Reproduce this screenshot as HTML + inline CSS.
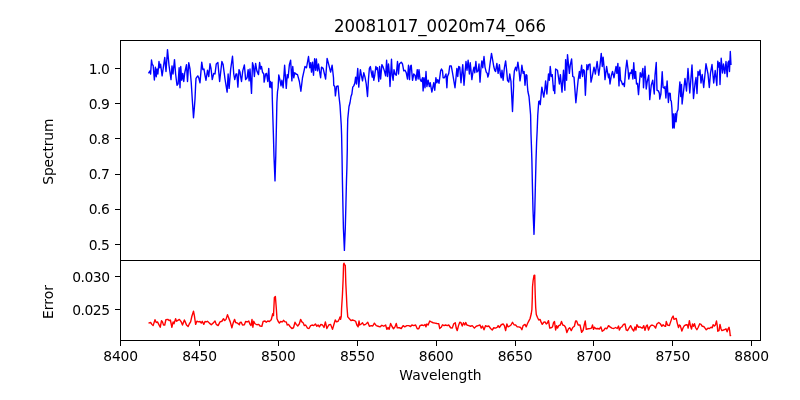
<!DOCTYPE html>
<html lang="en">
<head>
<meta charset="utf-8">
<title>20081017_0020m74_066</title>
<style>
html,body{margin:0;padding:0;background:#fff;}
body{width:800px;height:400px;overflow:hidden;}
svg{display:block;will-change:transform;}
text{font-family:"DejaVu Sans","Liberation Sans",sans-serif;fill:#000;}
.tk{font-size:13.89px;}
.ttl{font-size:16.67px;}
.ax{stroke:#000;stroke-width:1.11;fill:none;shape-rendering:crispEdges;}
.tick{stroke:#000;stroke-width:1.11;shape-rendering:crispEdges;}
.ln{fill:none;stroke-width:1.39;stroke-linejoin:round;stroke-linecap:butt;}
</style>
</head>
<body>
<svg width="800" height="400" viewBox="0 0 800 400">
<rect x="0" y="0" width="800" height="400" fill="#ffffff"/>
<defs>
<clipPath id="c1"><rect x="120.5" y="40.5" width="640.0" height="220.0"/></clipPath>
<clipPath id="c2"><rect x="120.5" y="260.5" width="640.0" height="80.0"/></clipPath>
</defs>
<polyline class="ln" clip-path="url(#c1)" stroke="#0000ff" points="148.50,73.38 150.00,70.88 150.62,74.00 151.50,60.00 152.25,64.62 153.12,65.25 154.38,80.00 155.38,67.12 156.25,76.75 157.00,69.00 157.88,74.00 159.00,61.50 159.75,67.75 160.62,64.25 162.12,75.88 163.12,69.00 164.75,57.50 166.00,71.50 167.50,49.62 169.00,65.25 171.00,79.62 172.00,65.88 173.00,74.00 174.50,59.62 175.62,74.00 177.00,85.25 178.12,83.75 179.12,67.75 180.00,87.75 180.75,66.50 181.75,80.25 182.75,73.38 183.75,81.50 184.75,72.75 186.50,64.62 187.50,81.50 188.75,62.75 190.00,69.00 191.25,82.75 192.25,99.00 192.75,106.50 193.50,117.75 194.25,109.00 195.00,99.00 195.62,85.25 196.00,78.38 197.75,75.88 198.75,77.75 200.00,82.75 201.75,62.12 202.88,69.62 204.00,69.00 204.75,74.00 206.00,80.25 207.50,70.25 208.75,76.50 210.00,63.75 211.00,68.38 212.25,79.62 213.75,73.38 215.00,74.00 216.25,64.00 217.88,62.50 219.62,81.50 221.88,61.50 223.12,64.62 225.00,79.00 227.12,92.12 228.12,74.00 229.12,88.38 230.62,69.62 232.50,56.25 233.75,74.00 234.75,79.62 236.00,74.00 236.88,74.00 237.88,87.12 239.00,69.62 240.00,72.12 240.62,76.50 241.50,81.50 242.75,70.88 244.38,65.00 245.62,79.62 247.12,77.75 248.12,69.62 249.12,80.88 250.00,69.00 251.50,93.38 252.50,62.75 253.50,66.50 254.38,76.50 255.62,63.38 256.88,70.88 258.50,74.62 259.62,62.50 260.62,69.00 261.50,66.50 262.50,72.12 263.75,74.00 264.12,82.12 265.62,74.00 266.50,73.38 267.75,81.50 268.75,68.38 269.75,87.12 270.38,81.50 271.25,87.75 272.00,82.12 272.25,96.50 272.75,114.00 273.38,134.00 274.00,156.50 275.00,180.88 275.75,156.50 276.25,134.00 276.88,102.75 277.50,91.50 278.12,87.75 278.75,75.00 280.00,80.25 281.00,85.88 281.88,80.25 283.12,87.75 284.62,65.25 286.25,88.38 287.25,74.62 288.12,77.75 289.38,64.62 290.62,60.25 291.88,80.88 292.75,66.50 293.75,77.75 294.75,72.75 296.00,74.00 297.50,74.62 299.38,81.50 300.88,91.25 302.50,77.75 303.75,72.12 305.00,66.50 306.50,67.75 308.50,56.50 309.75,67.75 310.62,62.75 311.50,72.12 312.50,62.12 313.50,75.25 314.62,58.75 315.62,70.25 316.38,59.00 317.50,70.88 318.50,64.00 319.75,72.75 320.62,77.75 321.50,67.12 323.12,68.38 325.62,79.00 327.12,58.38 328.75,64.62 330.62,72.12 332.12,65.25 333.50,77.75 333.75,85.25 334.75,86.50 335.40,95.90 336.60,86.50 338.10,85.90 339.00,96.50 340.00,105.30 341.25,125.30 341.60,135.00 342.00,155.00 342.40,180.00 342.90,205.00 343.40,228.00 344.40,250.40 345.30,228.00 345.90,205.00 346.50,180.00 346.90,167.50 347.30,148.75 347.40,134.00 347.75,119.00 349.00,106.50 350.00,102.75 351.00,96.50 351.88,94.00 352.75,87.12 353.75,85.88 354.75,83.38 355.62,77.12 356.50,84.00 357.75,68.38 358.75,87.12 359.75,76.50 360.38,69.62 361.50,75.88 362.50,80.88 363.75,72.75 365.00,77.12 366.25,84.00 367.50,96.50 368.50,79.00 369.38,68.38 370.38,66.50 371.25,72.12 372.25,77.12 372.88,70.88 373.75,80.25 374.75,75.25 375.88,66.50 376.88,69.62 377.50,67.75 378.75,81.50 379.62,66.50 380.62,79.00 381.88,64.62 383.12,67.12 384.38,70.88 385.62,75.88 386.62,60.25 387.50,76.50 388.50,64.00 389.38,73.38 390.00,86.50 391.50,59.25 392.25,75.25 393.12,80.25 394.00,69.62 395.00,74.00 396.25,75.25 397.50,61.50 398.50,74.00 399.38,64.00 401.25,62.12 402.50,64.00 403.75,70.88 405.00,70.25 406.25,72.75 407.50,79.00 408.50,65.25 409.50,79.62 410.38,66.50 411.25,65.25 412.50,80.25 413.75,74.00 415.00,75.25 416.00,80.25 417.25,69.62 418.12,79.00 419.00,69.62 420.00,79.00 421.25,81.50 422.50,77.75 423.12,90.88 424.00,77.75 425.00,87.75 426.00,71.50 426.88,86.50 428.12,80.25 429.38,86.50 430.25,82.75 431.88,92.12 433.12,85.88 433.75,82.75 434.75,90.25 435.88,77.75 436.88,82.75 437.75,79.62 439.00,83.38 440.62,70.88 441.50,69.00 442.50,70.88 443.12,77.75 444.38,77.75 446.00,74.00 446.88,87.75 447.50,76.50 448.75,73.38 449.75,65.88 451.25,65.88 452.50,72.75 453.75,80.25 455.00,87.75 455.88,79.00 456.88,68.38 457.75,76.50 458.75,66.50 459.75,67.12 461.00,82.75 461.88,72.75 462.75,64.62 464.00,85.25 465.00,72.75 466.00,61.50 467.00,70.25 468.12,60.25 469.38,74.00 470.25,62.75 471.88,79.62 473.12,70.88 474.00,67.12 474.75,72.75 475.88,61.50 476.88,72.12 478.12,70.88 479.00,64.00 480.00,82.12 481.00,67.75 481.88,60.88 482.75,67.75 484.00,56.50 485.00,67.12 486.25,72.12 487.25,73.38 487.88,77.12 488.75,74.00 490.00,64.00 491.50,53.38 492.50,59.00 493.75,66.50 494.75,70.25 495.62,71.50 496.88,63.38 498.12,73.38 499.38,64.62 500.38,74.62 501.25,77.75 502.00,70.25 503.12,80.25 504.38,67.75 505.62,60.88 506.50,69.00 507.50,80.25 508.75,82.12 509.75,74.00 511.00,81.50 511.20,86.00 512.50,111.50 513.60,86.00 513.50,81.50 514.38,70.88 515.62,67.12 516.62,70.88 517.88,62.12 519.00,70.25 520.00,80.88 521.00,74.00 521.88,65.25 523.12,73.38 524.12,71.50 525.00,85.25 526.00,74.62 526.88,75.25 527.25,84.00 527.90,91.50 529.00,96.50 530.00,107.75 530.60,115.00 531.00,134.00 531.40,145.00 531.90,161.00 532.40,185.00 533.00,210.00 534.00,234.40 534.80,210.00 535.40,185.00 536.00,161.00 536.60,142.50 537.20,130.00 537.75,115.25 538.75,101.50 539.40,100.90 540.25,104.60 541.25,93.40 541.88,87.12 543.12,94.00 543.75,97.12 544.75,90.25 545.62,80.88 546.88,94.00 548.50,74.00 549.38,80.25 550.25,66.50 551.25,76.50 552.25,74.62 553.50,90.50 554.12,85.88 554.75,93.50 555.62,69.00 557.50,70.25 559.38,84.00 560.38,74.62 562.00,92.12 563.50,70.25 564.88,90.25 565.62,59.62 566.62,80.25 567.50,54.62 569.38,73.38 570.25,65.25 571.62,59.00 572.75,76.50 574.00,77.12 575.88,102.75 578.12,80.25 579.38,71.50 580.00,78.38 581.62,65.25 582.50,76.50 583.50,69.62 584.38,70.88 585.38,95.25 586.88,64.62 587.88,69.62 588.75,64.62 590.00,64.00 591.00,82.12 592.25,76.50 594.00,67.12 595.38,74.00 597.12,61.50 598.75,75.25 599.75,67.75 601.25,53.38 602.25,66.50 603.12,57.12 604.38,70.25 605.00,79.62 606.62,66.50 607.50,72.12 608.50,77.75 609.12,74.00 610.00,84.00 611.25,75.88 612.50,71.50 614.00,77.75 616.00,66.50 616.88,73.38 617.88,63.38 619.00,85.88 619.75,67.12 620.62,80.25 621.50,81.50 622.50,84.62 623.50,83.38 624.38,86.50 625.62,70.88 626.88,60.25 628.12,70.25 628.75,79.00 630.00,72.75 631.00,73.38 631.88,69.62 632.88,79.00 633.75,62.75 634.75,78.38 635.62,71.50 636.50,84.00 637.50,83.38 638.50,94.62 640.25,72.75 641.50,77.12 642.88,68.38 643.50,87.75 645.00,66.25 646.25,89.00 647.25,81.50 648.75,75.25 649.75,99.62 651.25,85.25 652.75,80.25 654.25,94.00 655.00,75.25 656.25,62.50 657.00,90.25 658.38,90.88 659.38,93.38 659.75,99.10 660.90,94.00 662.20,71.75 663.10,87.50 664.25,88.25 665.00,86.40 665.90,98.00 667.10,81.00 668.40,102.50 669.10,93.10 670.25,93.50 670.70,100.50 671.30,101.00 671.90,108.00 672.40,118.00 672.70,128.00 673.50,114.00 674.20,128.00 675.30,113.50 676.10,121.80 677.00,112.00 678.00,109.60 678.60,97.50 679.90,81.90 680.75,96.50 681.50,84.50 682.10,104.00 683.50,91.50 685.00,78.50 686.50,91.00 688.00,68.50 689.80,93.00 692.00,65.00 693.50,98.50 695.00,83.50 696.00,77.50 697.00,93.50 698.00,71.50 699.00,75.00 700.00,70.00 701.00,83.00 702.20,74.50 703.70,87.50 706.00,63.80 708.00,74.00 709.30,87.50 710.50,73.00 712.00,64.50 713.70,83.00 715.20,70.50 716.80,85.50 717.80,61.20 718.50,67.00 719.40,62.75 720.00,84.50 721.20,58.20 722.50,73.00 723.50,64.00 724.80,73.50 726.00,61.50 727.20,76.80 728.00,62.50 728.80,61.00 729.50,71.50 730.30,51.50 731.00,65.00"/>
<polyline class="ln" clip-path="url(#c2)" stroke="#ff0000" points="148.50,323.12 150.62,322.50 151.88,324.38 153.12,325.62 155.00,319.75 156.25,322.50 157.50,321.88 158.75,324.38 160.25,327.25 161.50,320.62 162.50,321.88 163.50,325.00 164.75,325.00 165.88,319.75 167.75,319.38 169.38,320.62 170.38,320.00 171.88,327.25 173.12,321.88 174.00,323.75 175.62,318.75 176.50,321.25 177.50,320.62 179.38,319.38 181.25,321.88 182.50,325.00 184.38,320.00 185.25,321.88 186.50,325.00 188.12,326.50 189.38,323.75 190.62,321.88 191.88,316.25 193.50,311.25 194.38,315.62 195.62,324.38 196.88,321.25 198.75,321.88 200.00,321.50 201.25,323.12 202.25,321.25 203.75,324.38 205.00,321.50 206.25,321.88 207.50,321.25 209.38,323.12 211.25,324.75 213.12,323.12 215.00,321.00 216.25,324.38 218.12,325.62 220.00,321.88 221.88,321.25 223.50,318.75 224.75,320.62 226.00,319.38 227.50,314.75 228.75,318.12 230.25,321.88 231.88,327.75 233.12,323.12 234.62,319.38 235.62,322.50 237.50,323.12 239.38,324.75 240.00,322.50 241.25,322.25 242.50,325.00 244.38,324.75 245.62,321.50 247.50,321.88 248.75,321.00 250.00,324.38 251.00,325.62 252.00,319.38 252.88,327.25 253.75,321.25 255.00,323.75 256.88,324.75 258.75,324.38 260.00,326.00 261.88,326.25 263.12,321.50 265.00,321.00 266.25,322.25 267.75,321.00 269.38,321.50 271.25,319.75 272.75,313.75 273.50,315.62 274.38,297.50 275.38,296.50 276.25,307.50 277.00,318.75 278.12,321.25 279.38,323.12 280.62,321.50 282.50,321.88 283.50,320.25 285.00,321.88 286.25,321.88 287.25,325.00 288.50,324.38 290.00,326.50 291.88,328.50 293.50,327.75 295.00,322.25 296.25,324.38 297.75,326.00 299.38,323.75 300.62,319.38 301.88,321.88 303.12,322.75 304.38,325.62 305.62,325.00 307.50,328.12 309.00,328.50 310.62,325.62 312.50,325.00 313.75,325.62 315.38,324.00 316.88,326.25 318.12,325.00 319.38,326.88 320.88,324.38 322.50,325.00 324.00,327.50 325.38,321.88 326.88,328.50 328.75,325.00 330.62,324.38 332.50,329.38 333.75,325.00 335.25,320.00 336.50,321.88 338.12,321.25 339.38,318.75 340.00,317.00 340.60,319.40 341.30,316.00 341.60,308.00 342.40,295.50 343.10,280.00 343.60,264.00 344.00,263.20 344.80,265.00 345.30,265.50 345.80,283.00 346.40,295.00 346.90,306.00 347.75,316.90 349.38,318.75 351.00,320.62 352.50,320.00 354.38,320.62 355.62,321.25 356.88,325.00 358.12,326.88 359.00,321.00 359.75,325.00 361.25,324.00 362.50,322.75 363.75,325.00 365.62,324.38 367.75,322.25 369.38,326.25 371.25,325.62 372.75,326.00 374.38,323.12 376.25,325.62 378.12,326.25 380.00,326.88 381.88,325.25 383.75,326.25 385.62,325.00 386.88,329.38 388.12,327.50 389.12,329.38 390.62,323.50 391.88,326.25 393.50,328.75 395.00,326.88 396.25,323.50 397.25,327.75 399.38,327.75 401.25,328.50 403.12,325.62 404.75,326.88 406.88,325.62 408.75,325.62 410.62,326.50 411.88,325.00 413.75,325.62 415.62,325.00 417.25,328.75 418.75,328.75 420.00,325.62 421.88,325.00 423.75,325.62 425.00,324.38 426.00,326.88 426.88,324.00 428.12,325.00 429.75,321.00 431.25,321.88 433.12,322.75 435.00,323.12 436.88,323.50 438.75,323.75 439.75,328.50 440.50,327.75 441.25,327.25 442.50,324.75 444.00,325.62 445.62,325.00 447.25,325.62 448.75,325.00 450.62,327.75 452.25,328.12 453.75,323.75 455.25,322.75 456.25,328.12 457.25,330.62 458.50,325.62 459.75,322.25 461.00,322.75 462.25,326.00 463.50,322.75 464.75,325.00 465.75,322.50 466.88,325.00 468.75,325.62 470.62,326.25 472.25,325.62 474.38,328.12 476.25,326.25 478.12,325.62 480.00,325.00 481.25,328.12 482.50,326.00 484.00,329.75 485.62,325.62 486.88,326.50 488.75,326.00 490.62,328.50 492.25,330.00 493.75,327.75 495.62,328.12 497.25,327.25 498.12,325.62 499.38,327.50 501.25,324.75 503.12,324.00 504.38,325.62 505.62,330.62 506.88,324.00 508.12,326.88 509.38,326.25 511.00,325.00 512.50,322.25 514.00,324.75 515.62,325.00 517.25,326.88 518.75,326.88 520.62,327.50 521.88,329.75 523.12,325.62 525.00,324.38 526.25,326.88 527.50,323.50 529.00,320.62 530.00,318.75 531.25,313.75 531.90,309.50 532.30,298.00 532.50,287.00 533.10,280.75 534.00,275.30 534.75,275.10 535.00,287.00 535.30,297.00 535.70,307.50 536.30,314.50 537.50,317.50 538.75,320.00 540.00,319.38 541.00,321.88 542.25,324.38 543.75,322.25 545.00,321.88 546.25,324.00 547.25,323.12 548.50,320.62 549.75,328.12 551.25,327.75 552.50,326.88 553.50,322.75 554.50,321.50 555.62,330.00 556.62,325.62 557.50,328.12 558.75,325.62 560.25,325.00 561.50,321.50 562.75,325.00 564.38,325.62 565.62,327.50 566.88,332.50 568.50,328.75 569.75,327.75 571.25,330.62 572.75,327.50 574.38,326.25 575.62,321.00 576.62,321.00 578.12,325.00 580.00,325.00 581.62,332.25 583.12,330.25 584.38,324.38 585.25,321.00 586.25,329.38 588.12,328.75 590.00,328.50 591.50,328.12 592.50,325.00 593.50,329.38 594.38,327.25 596.00,328.75 597.75,328.50 599.38,329.00 600.88,326.88 602.25,331.25 603.75,330.25 605.25,328.12 606.88,328.75 608.50,325.62 610.00,326.88 611.88,328.12 613.75,328.50 615.62,327.50 617.25,328.50 618.50,326.00 619.38,330.00 620.62,327.50 621.88,326.88 623.50,324.38 625.00,324.00 626.25,330.00 627.50,330.62 629.00,328.12 630.62,325.62 632.25,329.00 633.75,331.00 635.00,326.88 636.00,330.00 636.88,324.75 638.50,327.25 640.00,326.88 641.25,327.75 642.50,328.12 643.75,325.62 645.00,330.25 646.25,326.00 647.25,325.00 648.50,330.00 649.75,326.88 651.25,325.25 652.75,325.25 654.38,326.25 655.62,328.12 656.88,324.00 658.75,322.50 660.25,323.75 661.88,326.25 663.12,324.75 664.38,326.00 665.62,326.25 666.25,321.50 667.50,325.00 669.38,325.62 670.62,321.88 671.88,318.12 673.12,316.00 674.00,319.38 675.25,318.75 676.25,318.50 677.25,323.12 678.50,327.50 679.38,325.00 680.25,325.62 681.88,331.00 683.12,327.75 684.38,325.62 686.25,324.75 687.50,325.00 688.12,328.12 689.38,320.62 690.38,325.62 691.50,329.00 692.50,324.00 693.50,326.25 694.50,323.75 695.62,327.75 696.88,329.75 698.12,327.50 699.75,323.75 701.00,324.38 702.25,326.25 703.75,326.50 705.00,328.12 706.25,329.75 708.12,328.12 709.38,328.50 711.00,327.25 712.25,327.75 713.12,324.75 714.38,326.00 715.38,325.00 716.50,321.00 717.25,325.62 717.75,331.25 719.00,330.62 720.00,324.38 721.00,328.75 721.88,330.62 723.50,330.00 725.00,329.38 726.00,328.75 727.12,331.88 728.12,328.75 729.00,327.25 729.75,331.25 730.25,335.62 731.00,335.00"/>
<line class="tick" x1="120.50" y1="340.5" x2="120.50" y2="346"/>
<text class="tk" x="120.69" y="360.82" text-anchor="middle" textLength="34.8" lengthAdjust="spacing">8400</text>
<line class="tick" x1="199.50" y1="340.5" x2="199.50" y2="346"/>
<text class="tk" x="199.56" y="360.82" text-anchor="middle" textLength="34.8" lengthAdjust="spacing">8450</text>
<line class="tick" x1="278.50" y1="340.5" x2="278.50" y2="346"/>
<text class="tk" x="278.44" y="360.82" text-anchor="middle" textLength="34.8" lengthAdjust="spacing">8500</text>
<line class="tick" x1="357.50" y1="340.5" x2="357.50" y2="346"/>
<text class="tk" x="357.31" y="360.82" text-anchor="middle" textLength="34.8" lengthAdjust="spacing">8550</text>
<line class="tick" x1="436.50" y1="340.5" x2="436.50" y2="346"/>
<text class="tk" x="436.19" y="360.82" text-anchor="middle" textLength="34.8" lengthAdjust="spacing">8600</text>
<line class="tick" x1="515.50" y1="340.5" x2="515.50" y2="346"/>
<text class="tk" x="515.07" y="360.82" text-anchor="middle" textLength="34.8" lengthAdjust="spacing">8650</text>
<line class="tick" x1="593.50" y1="340.5" x2="593.50" y2="346"/>
<text class="tk" x="593.94" y="360.82" text-anchor="middle" textLength="34.8" lengthAdjust="spacing">8700</text>
<line class="tick" x1="672.50" y1="340.5" x2="672.50" y2="346"/>
<text class="tk" x="672.82" y="360.82" text-anchor="middle" textLength="34.8" lengthAdjust="spacing">8750</text>
<line class="tick" x1="751.50" y1="340.5" x2="751.50" y2="346"/>
<text class="tk" x="751.69" y="360.82" text-anchor="middle" textLength="34.8" lengthAdjust="spacing">8800</text>
<line class="tick" x1="115" y1="68.50" x2="120.5" y2="68.50"/>
<text class="tk" x="109.80" y="73.80" text-anchor="end" textLength="21.1" lengthAdjust="spacing">1.0</text>
<line class="tick" x1="115" y1="103.50" x2="120.5" y2="103.50"/>
<text class="tk" x="109.80" y="108.80" text-anchor="end" textLength="21.1" lengthAdjust="spacing">0.9</text>
<line class="tick" x1="115" y1="138.50" x2="120.5" y2="138.50"/>
<text class="tk" x="109.80" y="143.80" text-anchor="end" textLength="21.1" lengthAdjust="spacing">0.8</text>
<line class="tick" x1="115" y1="174.50" x2="120.5" y2="174.50"/>
<text class="tk" x="109.80" y="178.90" text-anchor="end" textLength="21.1" lengthAdjust="spacing">0.7</text>
<line class="tick" x1="115" y1="209.50" x2="120.5" y2="209.50"/>
<text class="tk" x="109.80" y="214.30" text-anchor="end" textLength="21.1" lengthAdjust="spacing">0.6</text>
<line class="tick" x1="115" y1="244.50" x2="120.5" y2="244.50"/>
<text class="tk" x="109.80" y="249.80" text-anchor="end" textLength="21.1" lengthAdjust="spacing">0.5</text>
<line class="tick" x1="115" y1="276.50" x2="120.5" y2="276.50"/>
<text class="tk" x="110.05" y="281.80" text-anchor="end" textLength="37.9" lengthAdjust="spacing">0.030</text>
<line class="tick" x1="115" y1="309.50" x2="120.5" y2="309.50"/>
<text class="tk" x="110.05" y="314.80" text-anchor="end" textLength="37.9" lengthAdjust="spacing">0.025</text>
<rect class="ax" x="120.5" y="40.5" width="640.0" height="220.0"/>
<rect class="ax" x="120.5" y="260.5" width="640.0" height="80.0"/>
<text class="ttl" transform="translate(440.0,31.9) scale(1,1.085)" text-anchor="middle" textLength="212.2" lengthAdjust="spacing">20081017_0020m74_066</text>
<text class="tk" x="440.5" y="380" text-anchor="middle">Wavelength</text>
<text class="tk" transform="translate(53.4,151.6) rotate(-90)" text-anchor="middle" textLength="66.3" lengthAdjust="spacing">Spectrum</text>
<text class="tk" transform="translate(53.3,302) rotate(-90)" text-anchor="middle">Error</text>
</svg>
</body>
</html>
